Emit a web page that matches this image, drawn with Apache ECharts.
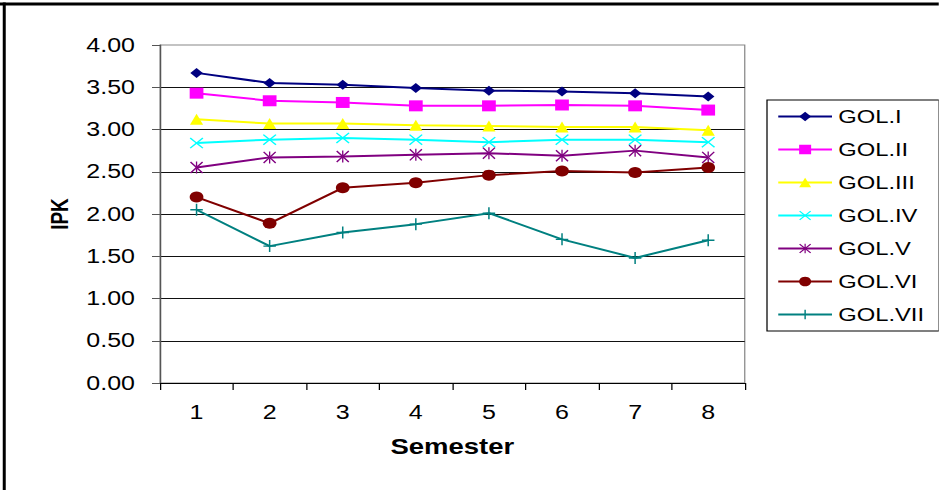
<!DOCTYPE html>
<html>
<head>
<meta charset="utf-8">
<script src="https://cdn.jsdelivr.net/npm/echarts@6/dist/echarts.min.js"></script>
<style>
html,body{margin:0;padding:0;background:#fff;overflow:hidden;}
#wrap{width:939px;height:490px;overflow:hidden;}
#c{width:751.2px;height:490px;transform:scaleX(1.25);transform-origin:0 0;}
</style>
</head>
<body>
<div id="wrap"><div id="c"></div></div>
<script>
var semesters = ['1','2','3','4','5','6','7','8'];
var seriesNames = ['GOL.I','GOL.II','GOL.III','GOL.IV','GOL.V','GOL.VI','GOL.VII'];
var golI   = [3.67, 3.55, 3.53, 3.49, 3.46, 3.45, 3.43, 3.39];
var golII  = [3.43, 3.34, 3.32, 3.28, 3.28, 3.29, 3.28, 3.23];
var golIII = [3.12, 3.07, 3.07, 3.05, 3.04, 3.03, 3.03, 2.99];
var golIV  = [2.84, 2.88, 2.90, 2.88, 2.85, 2.88, 2.88, 2.85];
var golV   = [2.55, 2.67, 2.68, 2.70, 2.72, 2.69, 2.75, 2.67];
var golVI  = [2.20, 1.89, 2.31, 2.37, 2.46, 2.51, 2.49, 2.55];
var golVII = [2.05, 1.62, 1.78, 1.88, 2.01, 1.70, 1.48, 1.69];
var yTicks = [0, 0.5, 1, 1.5, 2, 2.5, 3, 3.5, 4];

var allData = [golI, golII, golIII, golIV, golV, golVI, golVII];
var colors = ['#000080','#FF00FF','#FFFF00','#00FFFF','#800080','#800000','#008080'];
var plusPath = 'path://M4.4,0H5.6V4.4H10V5.6H5.6V10H4.4V5.6H0V4.4H4.4Z';
var xPath = 'path://M0,0.8L0.8,0L5,4.2L9.2,0L10,0.8L5.8,5L10,9.2L9.2,10L5,5.8L0.8,10L0,9.2L4.2,5Z';
var starPath = 'path://M0,0.8L0.8,0L5,4.2L9.2,0L10,0.8L5.8,5L10,9.2L9.2,10L5,5.8L0.8,10L0,9.2L4.2,5Z M4.5,0H5.5V3.9H4.5Z M4.5,6.1H5.5V10H4.5Z';
var symbols = ['diamond','rect','triangle',xPath,starPath,'circle',plusPath];
var sizes = [[10,10],[11,11],[10.5,11],[11,11],[10.5,12],[11,11],[10,12]];
var FF = 'Liberation Sans, Arial, sans-serif';

var chart = echarts.init(document.getElementById('c'), null, {renderer:'svg'});
var series = seriesNames.map(function(n,i){
  return {
    name: n, type: 'line', data: allData[i],
    symbol: symbols[i], symbolSize: sizes[i],
    itemStyle: {color: colors[i]},
    lineStyle: {color: colors[i], width: 2},
    animation: false
  };
});
chart.setOption({
  animation: false,
  textStyle: {fontFamily: FF},
  grid: {left: 128, right: 155.2, top: 45, bottom: 107, show: true, borderColor: '#888', borderWidth: 1, backgroundColor: 'transparent'},
  legend: {
    orient: 'vertical', left: 613.6, top: 100,
    data: seriesNames,
    itemWidth: 43, itemHeight: 12, itemGap: 14,
    padding: [7, 12, 7, 8],
    borderColor: '#000', borderWidth: 1,
    textStyle: {fontSize: 19, color: '#000', fontFamily: FF}
  },
  xAxis: {
    type: 'category', data: semesters, boundaryGap: true,
    name: 'Semester', nameLocation: 'middle', nameGap: 52,
    nameTextStyle: {fontSize: 22, fontWeight: 'bold', color: '#000', fontFamily: FF},
    axisLine: {lineStyle: {color: '#000', width: 1}},
    axisTick: {show: true, length: 7, lineStyle: {color: '#000'}},
    axisLabel: {fontSize: 20, color: '#000', margin: 19, fontFamily: FF}
  },
  yAxis: {
    type: 'value', min: 0, max: 4, interval: 0.5,
    name: 'IPK', nameLocation: 'middle', nameGap: 70,
    nameTextStyle: {fontSize: 19, fontWeight: 'bold', color: '#000', fontFamily: FF},
    axisLine: {show: true, lineStyle: {color: '#555', width: 1}},
    axisTick: {show: true, length: 6.4, lineStyle: {color: '#555'}},
    axisLabel: {fontSize: 20, color: '#000', margin: 20, fontFamily: FF, formatter: function(v){return v.toFixed(2);}},
    splitLine: {show: true, showMaxLine: false, lineStyle: {color: '#111', width: 1}}
  },
  graphic: [{
    type: 'line', silent: true, z: 100,
    shape: {x1: 0, y1: 4, x2: 751.2, y2: 4},
    style: {stroke: '#000', lineWidth: 3}
  }, {
    type: 'line', silent: true, z: 100,
    shape: {x1: 3.4, y1: 2.5, x2: 3.4, y2: 490},
    style: {stroke: '#000', lineWidth: 2.4}
  }],
  series: series
});
</script>
</body>
</html>
